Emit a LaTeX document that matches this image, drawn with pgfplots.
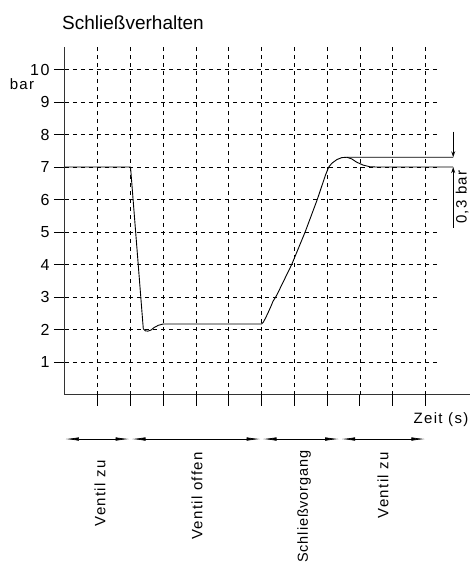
\documentclass[border=0pt]{standalone}
\usepackage{fontspec}
\setmainfont{Liberation Sans}
\newfontfamily\iso{Liberation Sans}[LetterSpace=9]
\newfontfamily\isotight{Liberation Sans}[LetterSpace=6]
\usepackage{pgfplots}
\pgfplotsset{compat=1.18}
\usetikzlibrary{arrows.meta}
\begin{document}
\begin{tikzpicture}
\path[use as bounding box] (0,0) rectangle (470pt,-568pt);
\node[anchor=base west, inner sep=0pt, font=\fontsize{19}{22}\selectfont] at (62pt,-29pt) {Schließverhalten};
\node[font=\iso\fontsize{15}{18}\selectfont] at (22pt,-84pt) {bar};
\node[font=\iso\fontsize{15}{18}\selectfont] at (441pt,-420pt) {Zeit (s)};
\begin{axis}[
  at={(65pt,-394.5pt)}, anchor=origin,
  scale only axis, width=404.6pt, height=347.4pt,
  xmin=0, xmax=12.35, ymin=0, ymax=10.69,
  axis x line=bottom, axis y line=left,
  axis line style={-, line width=1pt, black!80},
  xtick={1,...,11}, xticklabels={}, ytick={1,...,10},
  tick align=outside, major tick length=11pt,
  tick style={line width=0.8pt, black},
  yticklabel style={font=\iso\fontsize{16}{18}\selectfont, xshift=-1pt},
  /pgf/number format/assume math mode=true,
  clip=false,
]
\pgfplotsinvokeforeach{1,...,11}{
  \draw[black, line width=0.7pt, dash pattern=on 4pt off 4pt] (axis cs:#1,0) -- (axis cs:#1,10.69);
}
\pgfplotsinvokeforeach{1,...,10}{
  \draw[black, line width=0.7pt, dash pattern=on 4pt off 4pt] (axis cs:0,#1) -- (axis cs:11.36,#1);
}
\addplot[black, line width=0.9pt, line join=round] coordinates {
  (0,7) (2,7) (2.39,2.02) (2.45,1.96) (2.53,1.95) (2.62,1.98) (2.72,2.06) (2.85,2.13) (3.0,2.17)
  (6,2.17) (6.05,2.22) (6.12,2.35) (6.2,2.52) (6.28,2.7) (6.35,2.87) (6.46,3.05)
  (6.92,4.0) (7.33,5.0) (7.7,6.0) (7.85,6.45) (7.95,6.75) (8.05,7.0) (8.15,7.12)
  (8.3,7.23) (8.45,7.29) (8.6,7.3) (11.85,7.3)
};
\addplot[black, line width=0.9pt, line join=round] coordinates {
  (8.6,7.3) (8.75,7.25) (8.9,7.15) (9.1,7.06) (9.3,7.01) (9.5,7.0) (11.85,7.0)
};
\draw[black, line width=0.8pt, -{Stealth[length=6pt,width=4pt,open]}] (axis cs:11.85,8.09) -- (axis cs:11.85,7.3);
\draw[black, line width=0.8pt, -{Stealth[length=6pt,width=4pt,open]}] (axis cs:11.85,5.13) -- (axis cs:11.85,7.0);
\node[rotate=90, anchor=east, inner sep=0pt, font=\iso\fontsize{15}{18}\selectfont] at (axis cs:12.12,6.9) {0,3 bar};
\tikzset{seg/.style={black, line width=0.7pt, {Latex[length=14pt,width=3.5pt]}-{Latex[length=14pt,width=3.5pt]}}}
\draw[seg] (axis cs:0,-1.37) -- (axis cs:1.97,-1.37);
\draw[seg] (axis cs:2.03,-1.37) -- (axis cs:5.97,-1.37);
\draw[seg] (axis cs:6.03,-1.37) -- (axis cs:8.37,-1.37);
\draw[seg] (axis cs:8.43,-1.37) -- (axis cs:11.0,-1.37);
\tikzset{lab/.style={rotate=90, anchor=east, inner sep=0pt, font=\iso\fontsize{15}{18}\selectfont}}
\node[lab] at (axis cs:1.07,-2.02) {Ventil zu};
\node[lab] at (axis cs:4.03,-1.77) {Ventil offen};
\node[lab, font=\isotight\fontsize{14.5}{18}\selectfont] at (axis cs:7.3,-1.72) {Schließvorgang};
\node[lab] at (axis cs:9.71,-1.77) {Ventil zu};
\end{axis}
\end{tikzpicture}
\end{document}
